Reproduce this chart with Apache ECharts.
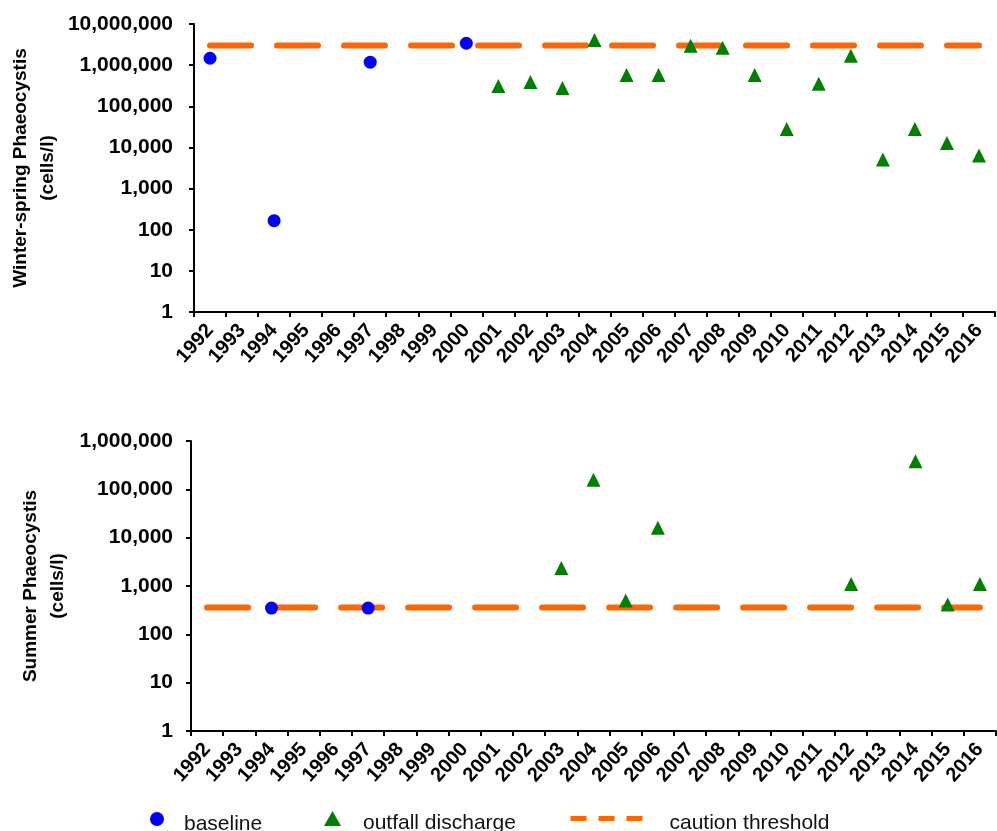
<!DOCTYPE html>
<html>
<head>
<meta charset="utf-8">
<script src="https://cdn.jsdelivr.net/npm/echarts@6/dist/echarts.min.js"></script>
<style>
  html, body { margin: 0; padding: 0; background: #fff; }
  #main { width: 997px; height: 831px; }
</style>
</head>
<body>
<div id="main"></div>
<script>
// years on both x axes
var years = ['1992', '1993', '1994', '1995', '1996', '1997', '1998', '1999', '2000', '2001',
  '2002', '2003', '2004', '2005', '2006', '2007', '2008', '2009', '2010', '2011',
  '2012', '2013', '2014', '2015', '2016'];

// winter-spring Phaeocystis (cells/l), null = no mark
var winterBaseline = [1470000, null, 166, null, null, 1180000, null, null, 3400000, null,
  null, null, null, null, null, null, null, null, null, null,
  null, null, null, null, null];
var winterOutfall = [null, null, null, null, null, null, null, null, null, 310000,
  390000, 277000, 4100000, 575000, 575000, 2940000, 2640000, 575000, 28000, 355000,
  1700000, 5070, 28000, 12800, 6400];
var winterThreshold = 3000000;

// summer Phaeocystis (cells/l)
var summerBaseline = [null, null, 350, null, null, 350, null, null, null, null,
  null, null, null, null, null, null, null, null, null, null,
  null, null, null, null, null];
var summerOutfall = [null, null, null, null, null, null, null, null, null, null,
  null, 2350, 158000, 500, 16100, null, null, null, null, null,
  1100, null, 380000, 412, 1100];
var summerThreshold = 357;

var FONT = "'Liberation Sans', Arial, sans-serif";
var BLUE = '#0000ff', GREEN = '#008000', ORANGE = '#ff6600';

function gaps(arr) {
  return arr.map(function (v) { return v == null ? '-' : v; });
}
function flat(v) {
  return years.map(function () { return v; });
}
function fmt(v) {
  return Math.round(v).toLocaleString('en-US');
}

function xAxisFor(idx) {
  return {
    type: 'category',
    gridIndex: idx,
    data: years,
    boundaryGap: true,
    axisLine: { show: true, lineStyle: { color: '#000', width: 2 } },
    axisTick: { show: true, interval: 0, length: 5, lineStyle: { color: '#000', width: 2 } },
    axisLabel: {
      interval: 0, rotate: 48, margin: 15,
      color: '#000', fontFamily: FONT, fontWeight: 'bold', fontSize: 20
    },
    splitLine: { show: false }
  };
}

function yAxisFor(idx, max, name, gap, margin) {
  return {
    type: 'log',
    gridIndex: idx,
    logBase: 10,
    min: 1,
    max: max,
    name: name,
    nameLocation: 'middle',
    nameRotate: 90,
    nameGap: gap,
    nameMoveOverlap: false,
    nameTextStyle: { color: '#000', fontFamily: FONT, fontWeight: 'bold', fontSize: 19, lineHeight: 27 },
    axisLine: { show: true, lineStyle: { color: '#000', width: 2 } },
    axisTick: { show: true, length: 5, lineStyle: { color: '#000', width: 2 } },
    minorTick: { show: false },
    splitLine: { show: false },
    axisLabel: {
      margin: margin, formatter: fmt,
      color: '#000', fontFamily: FONT, fontWeight: 'bold', fontSize: 21
    }
  };
}

var threshLine = { color: ORANGE, width: 6, type: [41, 26], cap: 'round' };
// legend text pushed a little below the icon centre, as in the original
var legendText = function (padLeft) {
  return {
    fontFamily: FONT, fontSize: 21, color: '#111', padding: [0, 0, 0, padLeft],
    rich: { t: { fontFamily: FONT, fontSize: 21, color: '#111', padding: [10, 0, 0, 0] } }
  };
};

var myChart = echarts.init(document.getElementById('main'));
var option = {
  animation: false,
  backgroundColor: '#fff',
  grid: [
    { left: 194, right: 2, top: 24, height: 288, outerBoundsMode: 'none' },
    { left: 191, right: 1, top: 441, height: 290, outerBoundsMode: 'none' }
  ],
  xAxis: [xAxisFor(0), xAxisFor(1)],
  yAxis: [
    yAxisFor(0, 10000000, 'Winter-spring Phaeocystis\n(cells/l)', 133, 21),
    yAxisFor(1, 1000000, 'Summer Phaeocystis\n(cells/l)', 120, 18)
  ],
  legend: [
    {
      data: ['baseline'], left: 150, top: 812, padding: 0,
      itemWidth: 14, itemHeight: 14, formatter: '{t|{name}}',
      textStyle: legendText(15)
    },
    {
      data: ['outfall discharge'], left: 324, top: 811, padding: 0,
      itemWidth: 17, itemHeight: 15, formatter: '{t|{name}}',
      textStyle: legendText(17)
    },
    {
      data: [{
        name: 'caution threshold',
        lineStyle: { type: [16, 12], cap: 'butt', width: 5, color: ORANGE },
        itemStyle: { color: 'rgba(0,0,0,0)', borderWidth: 0, opacity: 0 }
      }],
      left: 568, top: 813, padding: 0,
      itemWidth: 72, itemHeight: 14, formatter: '{t|{name}}',
      textStyle: legendText(22)
    }
  ],
  series: [
    {
      name: 'caution threshold', type: 'line', xAxisIndex: 0, yAxisIndex: 0,
      data: flat(winterThreshold), symbol: 'none', lineStyle: threshLine,
      itemStyle: { color: ORANGE }, z: 1
    },
    {
      name: 'baseline', type: 'scatter', xAxisIndex: 0, yAxisIndex: 0,
      data: gaps(winterBaseline), symbol: 'circle', symbolSize: 13,
      itemStyle: { color: BLUE, opacity: 1 }, z: 3
    },
    {
      name: 'outfall discharge', type: 'scatter', xAxisIndex: 0, yAxisIndex: 0,
      data: gaps(winterOutfall), symbol: 'triangle', symbolSize: 14,
      itemStyle: { color: GREEN, opacity: 1 }, z: 3
    },
    {
      name: 'caution threshold', type: 'line', xAxisIndex: 1, yAxisIndex: 1,
      data: flat(summerThreshold), symbol: 'none', lineStyle: threshLine,
      itemStyle: { color: ORANGE }, z: 1
    },
    {
      name: 'baseline', type: 'scatter', xAxisIndex: 1, yAxisIndex: 1,
      data: gaps(summerBaseline), symbol: 'circle', symbolSize: 13,
      itemStyle: { color: BLUE, opacity: 1 }, z: 3
    },
    {
      name: 'outfall discharge', type: 'scatter', xAxisIndex: 1, yAxisIndex: 1,
      data: gaps(summerOutfall), symbol: 'triangle', symbolSize: 14,
      itemStyle: { color: GREEN, opacity: 1 }, z: 3
    }
  ]
};
myChart.setOption(option);
</script>
</body>
</html>
